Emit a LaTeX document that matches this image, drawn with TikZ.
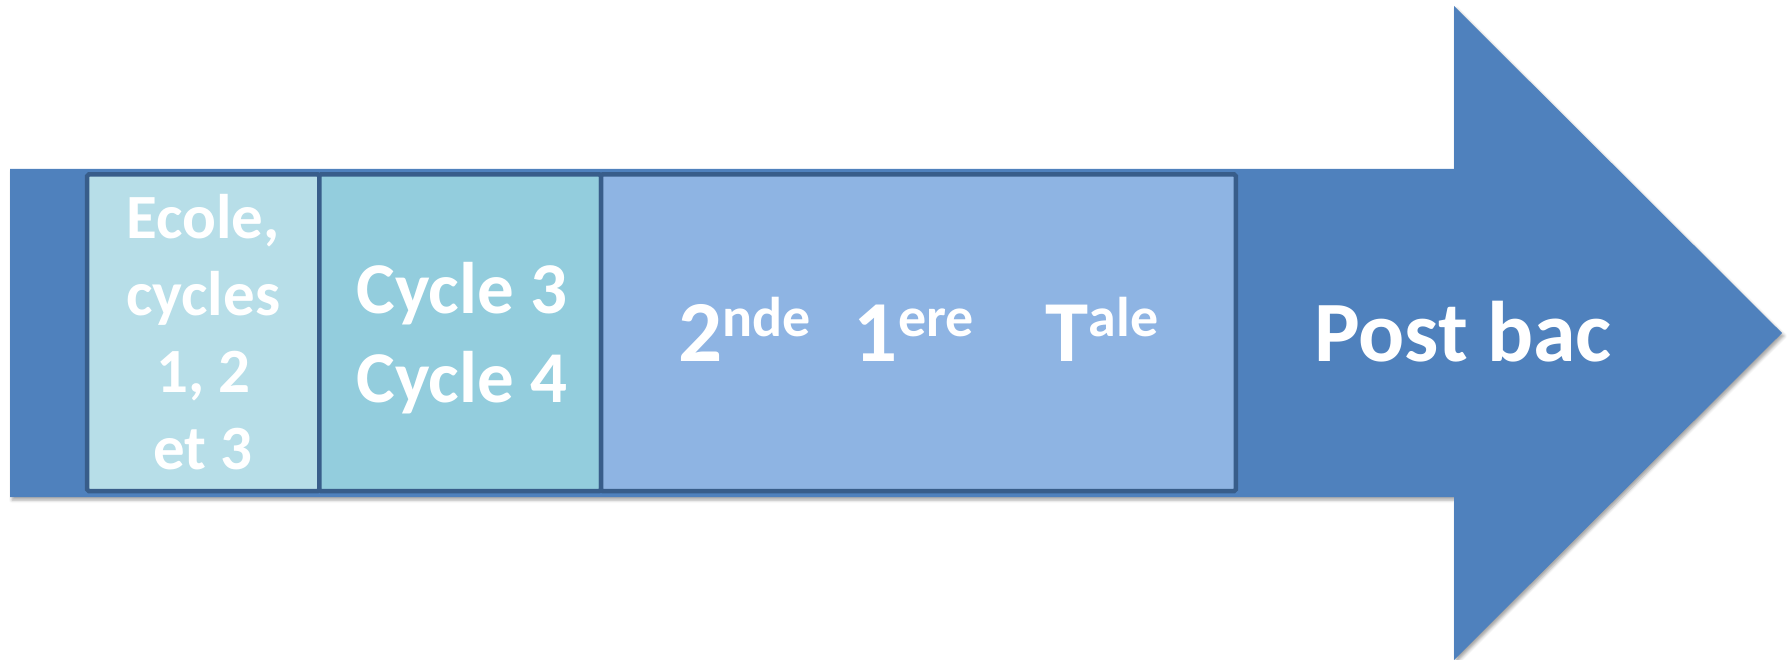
\documentclass[tikz,border=0pt]{standalone}
\usepackage{fontspec}
\setmainfont{Carlito}
\usetikzlibrary{shadows.blur}
\definecolor{arrowblue}{HTML}{4F81BD}
\definecolor{framedark}{HTML}{385D8A}
\definecolor{boxone}{HTML}{B7DEE8}
\definecolor{boxtwo}{HTML}{93CDDD}
\definecolor{boxthree}{HTML}{8EB4E3}
\newcommand\highup[1]{\raisebox{25pt}{\fontsize{56}{56}\selectfont #1}}
\begin{document}
\begin{tikzpicture}[x=1pt,y=-1pt,
  stagebox/.style={draw=framedark,line width=4.5pt,rectangle,inner sep=0pt,minimum height=316.5pt,rounded corners=1.5pt},
  stagetext/.style={text=white,align=center,inner sep=0pt}]
\useasboundingbox (0,0) rectangle (1789,660);
\fill[arrowblue, blur shadow={shadow xshift=2pt, shadow yshift=-3pt, shadow blur radius=3pt, shadow opacity=35}]
  (10,169) -- (1454,169) -- (1454,6) -- (1782,333) -- (1454,660) -- (1454,497) -- (10,497) -- cycle;
\node[stagebox, fill=boxone, minimum width=232.1pt] (ecole) at (203.25,332.75) {};
\node[stagebox, fill=boxtwo, minimum width=281.7pt] (college) at (460.15,332.75) {};
\node[stagebox, fill=boxthree, minimum width=634.8pt] (lycee) at (918.4,332.75) {};
\node[stagetext, font=\bfseries\fontsize{63}{77}\selectfont] (ecoletxt) at (203.25,332.5) {Ecole,\\cycles\\1, 2\\et 3};
\node[stagetext, font=\bfseries\fontsize{73}{89}\selectfont] (cycletxt) at (462,338) {Cycle 3\\Cycle 4};
\node[stagetext, anchor=base, font=\bfseries\fontsize{87}{100}\selectfont] (lyceetxt) at (918.5,362)
  {2\highup{nde}\hspace{43pt}1\highup{ere}\hspace{72pt}T\highup{ale}};
\node[stagetext, anchor=base, font=\bfseries\fontsize{86}{100}\selectfont] (postbac) at (1463,362) {Post bac};
\end{tikzpicture}
\end{document}
